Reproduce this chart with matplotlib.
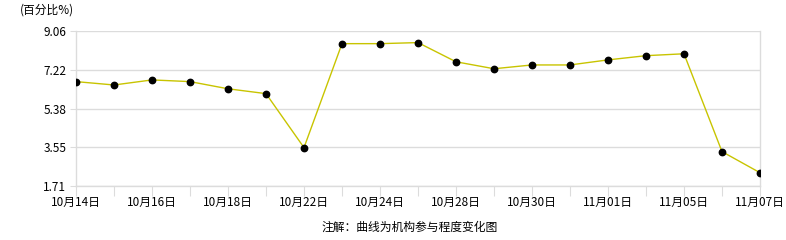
import matplotlib
matplotlib.use("Agg")
import matplotlib.pyplot as plt

plt.rcParams['font.family'] = ['Noto Sans CJK SC', 'DejaVu Sans']

dates = ["10月14日", "10月15日", "10月16日", "10月17日", "10月18日", "10月21日", "10月22日",
         "10月23日", "10月24日", "10月25日", "10月28日", "10月29日", "10月30日", "10月31日",
         "11月01日", "11月04日", "11月05日", "11月06日", "11月07日"]
values = [6.66, 6.50, 6.74, 6.66, 6.32, 6.09, 3.53, 8.46, 8.46, 8.51, 7.60, 7.27,
          7.45, 7.45, 7.69, 7.89, 7.98, 3.34, 2.34]
yticks = [1.71, 3.55, 5.38, 7.22, 9.06]
unit_label = "(百分比%)"
note = "注解：曲线为机构参与程度变化图"

W, H = 786, 240
fig = plt.figure(figsize=(W / 100, H / 100), dpi=100)
ax = fig.add_axes([76 / W, 1 - 186 / H, (760 - 76) / W, (186 - 31) / H])

x = list(range(len(dates)))
ax.plot(x, values, color='#c8c400', lw=1.0, zorder=3,
        marker='o', markersize=4.6, markerfacecolor='black', markeredgecolor='black')

ax.set_xlim(0, len(dates) - 1)
ax.set_ylim(yticks[0], yticks[-1])
ax.set_yticks(yticks)
ax.set_yticklabels([f"{v:.2f}" for v in yticks], fontsize=8.5)
ax.set_xticks(x)
ax.set_xticklabels([d if i % 2 == 0 else "" for i, d in enumerate(dates)], fontsize=8.5)

gc = '#dcdcdc'
ax.grid(axis='y', color=gc, lw=1.0)
ax.set_axisbelow(True)
for s in ['left', 'bottom', 'right']:
    ax.spines[s].set_color(gc)
    ax.spines[s].set_linewidth(1.0)
ax.spines['top'].set_visible(False)
ax.tick_params(axis='x', length=7, color=gc, pad=0, labelcolor='black')
ax.tick_params(axis='y', length=4, color=gc, pad=3, labelcolor='black')

fig.text(20 / W, 1 - 10 / H, unit_label, fontsize=8.5, va='center', ha='left')
fig.text(410 / W, 1 - 227 / H, note, fontsize=8.5, va='center', ha='center')

fig.savefig("out.png", dpi=100)
